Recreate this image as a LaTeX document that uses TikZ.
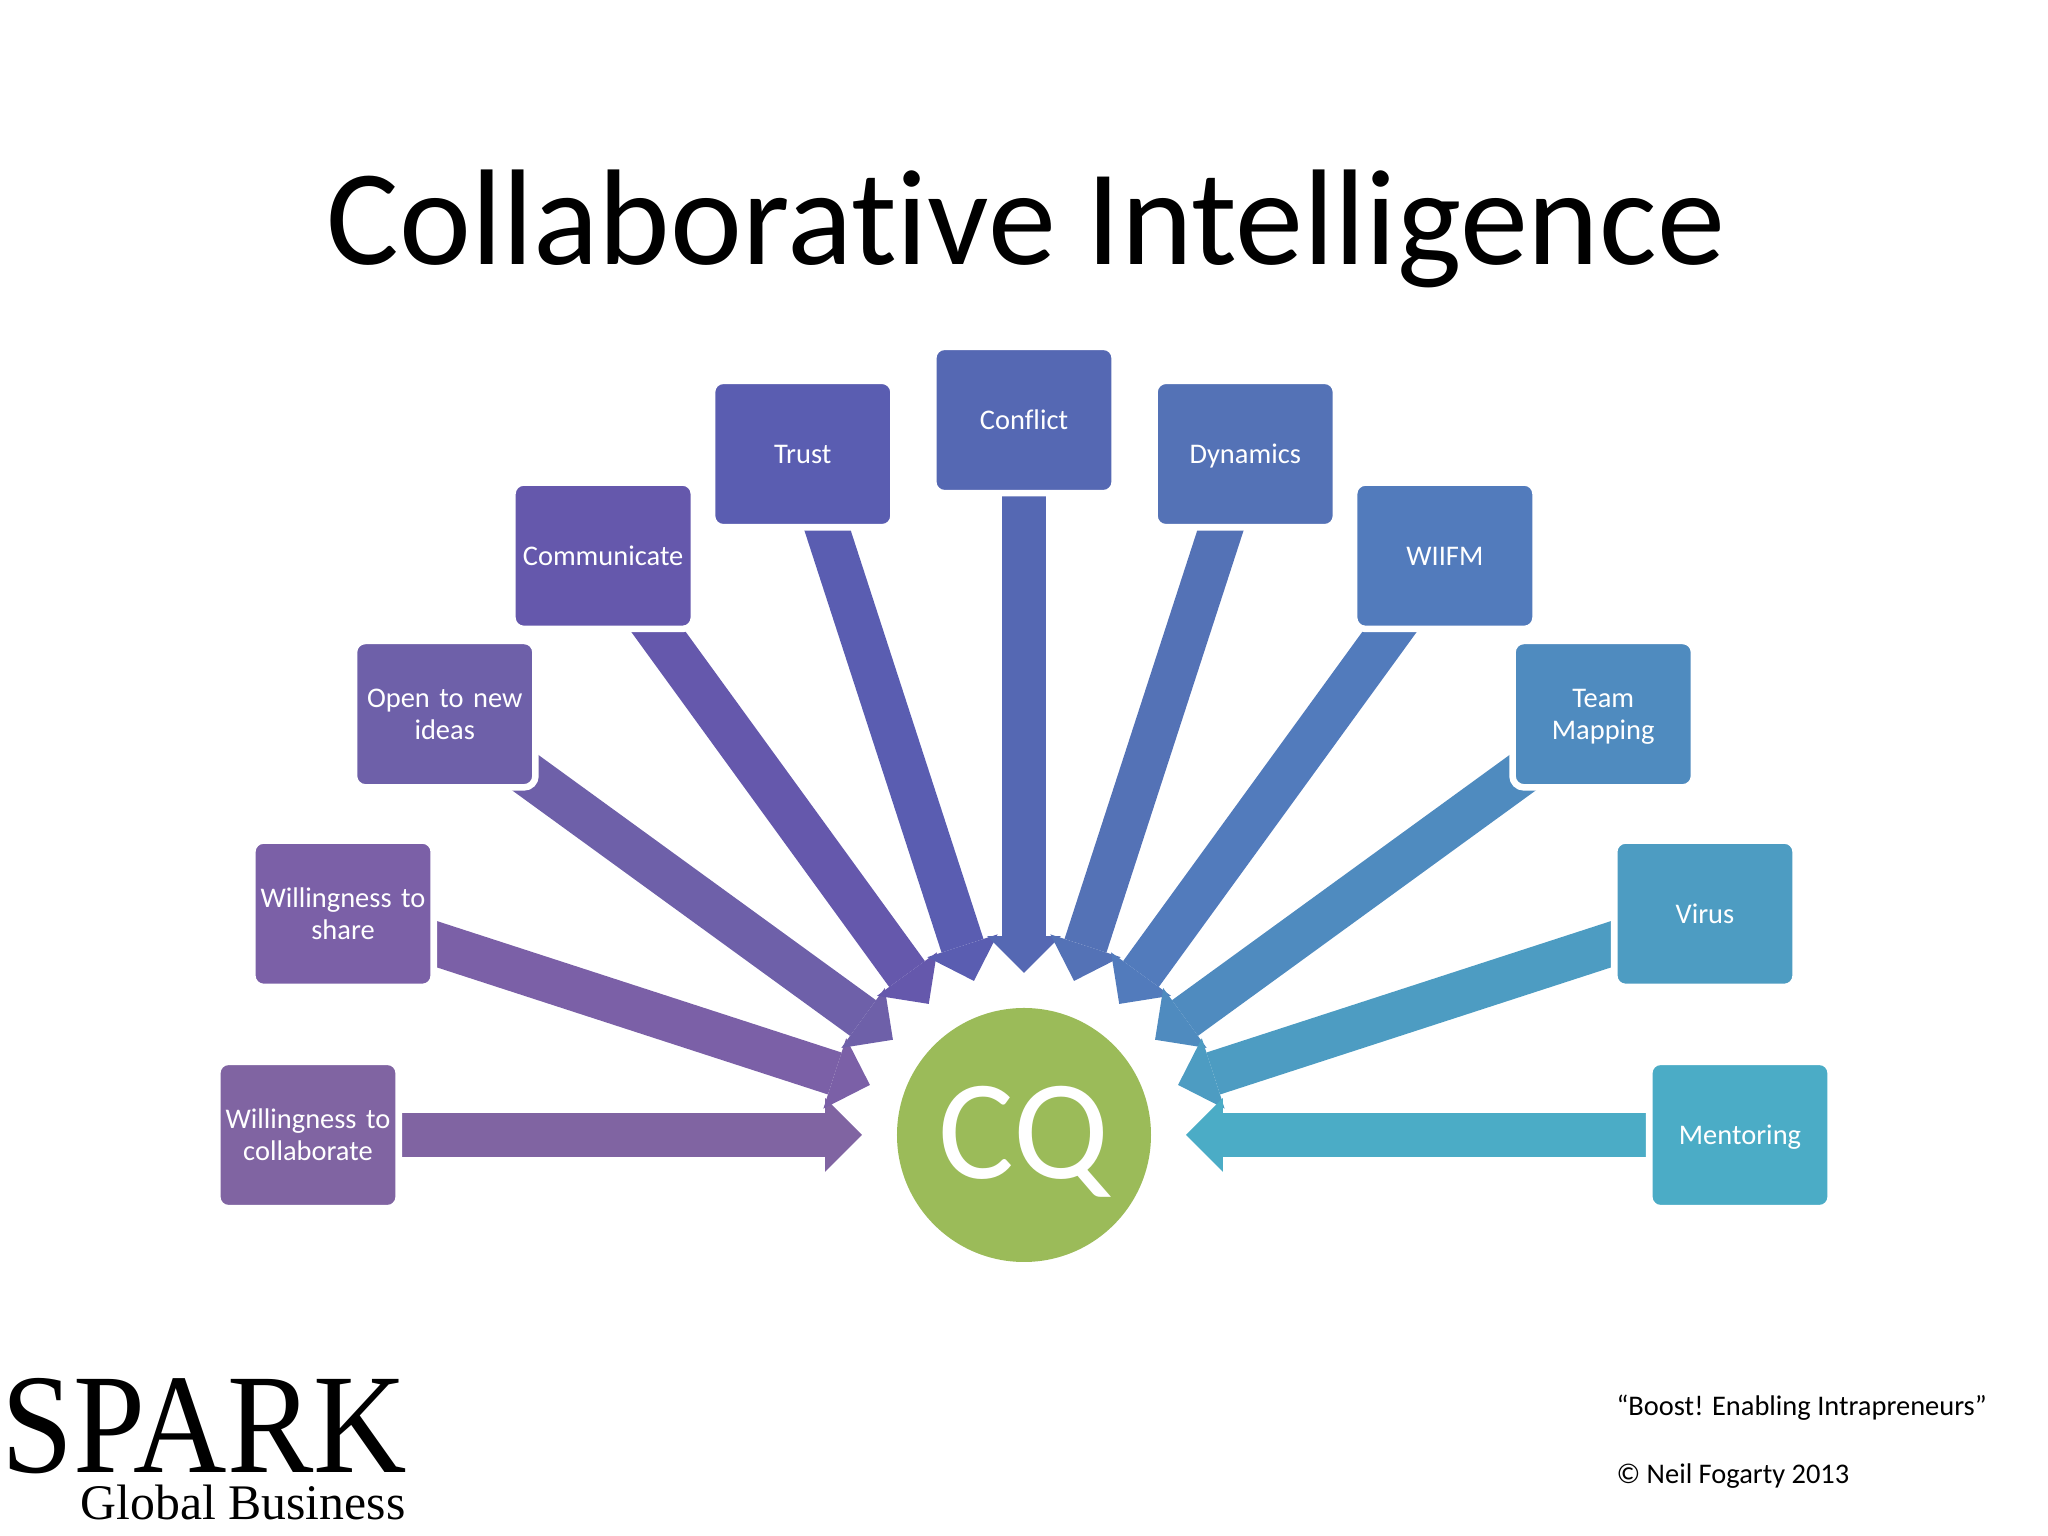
\documentclass[tikz,border=0pt]{standalone}
\usepackage{fontspec}
\setmainfont{Carlito}[Ligatures=NoCommon]
\newfontfamily\logofont{Liberation Serif}
\usetikzlibrary{arrows.meta,backgrounds}
\definecolor{collabcol}{HTML}{8064A2}
\definecolor{sharecol}{HTML}{7B60A7}
\definecolor{opencol}{HTML}{6E60A9}
\definecolor{commcol}{HTML}{6558AC}
\definecolor{trustcol}{HTML}{5A5DB1}
\definecolor{conflictcol}{HTML}{5568B3}
\definecolor{dynamicscol}{HTML}{5472B6}
\definecolor{wiifmcol}{HTML}{527BBC}
\definecolor{teamcol}{HTML}{4F8BBF}
\definecolor{viruscol}{HTML}{4D9CC2}
\definecolor{mentorcol}{HTML}{4BACC6}
\definecolor{cqcol}{HTML}{9BBB59}
\tikzset{
    itembox/.style={draw=white, line width=2.3pt, rounded corners=4pt, outer sep=0pt, inner sep=0pt,
        minimum width=63.8pt, minimum height=51.5pt, text width=63pt, align=center, text=white,
        font=\fontsize{10}{11.2}\selectfont, execute at begin node=\rule{0pt}{10.1pt}, execute at end node=\strut},
    blockarrow/.style={line width=15.5pt, -{Triangle[length=13pt, width=26pt, line width=0pt]}},
    plaintext/.style={inner sep=0pt, anchor=base west}
}
\begin{document}
\begin{tikzpicture}[x=0.3515625pt, y=0.3515625pt]
    \useasboundingbox (-1024,-401) rectangle (1024,1135);
    \node[inner sep=0pt, anchor=base, font=\fontsize{47.9}{48}\selectfont] (title) at (2,870) {Collaborative Intelligence};

    \node[circle, fill=cqcol, inner sep=0pt, minimum size=89.3pt, text=white, font=\fontsize{50}{50}\selectfont] (cq) at (0,0) {\rule{0pt}{37pt}CQ};

    \node[itembox, fill=collabcol] (collab) at (180:716) {Willingness to\\collaborate};
    \node[itembox, fill=sharecol] (share) at (162:716) {Willingness to\\share};
    \node[itembox, fill=opencol] (open) at (144:716) {Open to new\\ideas};
    \node[itembox, fill=commcol] (comm) at (126:716) {Communicate};
    \node[itembox, fill=trustcol] (trust) at (108:716) {Trust};
    \node[itembox, fill=conflictcol] (conflict) at (90:715) {Conflict};
    \node[itembox, fill=dynamicscol] (dynamics) at (72:716) {Dynamics};
    \node[itembox, fill=wiifmcol] (wiifm) at (54:716) {WIIFM};
    \node[itembox, fill=teamcol] (team) at (36:716) {Team\\Mapping};
    \node[itembox, fill=viruscol] (virus) at (18:716) {Virus};
    \node[itembox, fill=mentorcol] (mentor) at (0:716) {Mentoring};

    \coordinate (tipcollab) at (180:162);
    \coordinate (tipshare) at (162:162);
    \coordinate (tipopen) at (144:162);
    \coordinate (tipcomm) at (126:162);
    \coordinate (tiptrust) at (108:162);
    \coordinate (tipconflict) at (90:162);
    \coordinate (tipdynamics) at (72:162);
    \coordinate (tipwiifm) at (54:162);
    \coordinate (tipteam) at (36:162);
    \coordinate (tipvirus) at (18:162);
    \coordinate (tipmentor) at (0:162);

    \begin{pgfonlayer}{background}
        \draw[blockarrow, collabcol] (collab.center) -- (tipcollab);
        \draw[blockarrow, sharecol] (share.center) -- (tipshare);
        \draw[blockarrow, opencol] (open.center) -- (tipopen);
        \draw[blockarrow, commcol] (comm.center) -- (tipcomm);
        \draw[blockarrow, trustcol] (trust.center) -- (tiptrust);
        \draw[blockarrow, conflictcol] (conflict.center) -- (tipconflict);
        \draw[blockarrow, dynamicscol] (dynamics.center) -- (tipdynamics);
        \draw[blockarrow, wiifmcol] (wiifm.center) -- (tipwiifm);
        \draw[blockarrow, teamcol] (team.center) -- (tipteam);
        \draw[blockarrow, viruscol] (virus.center) -- (tipvirus);
        \draw[blockarrow, mentorcol] (mentor.center) -- (tipmentor);
    \end{pgfonlayer}

    \node[plaintext, font=\logofont\fontsize{50}{50}\selectfont] (spark) at (-1023,-338) {\scalebox{0.91}[1]{SPARK}};
    \node[plaintext, font=\logofont\fontsize{17.5}{17.5}\selectfont] (global) at (-944,-385) {Global Business};
    \node[plaintext, font=\fontsize{10}{10}\selectfont] (boost) at (592,-281) {“Boost! Enabling Intrapreneurs”};
    \node[plaintext, font=\fontsize{10}{10}\selectfont] (neil) at (592,-349) {© Neil Fogarty 2013};
\end{tikzpicture}
\end{document}
